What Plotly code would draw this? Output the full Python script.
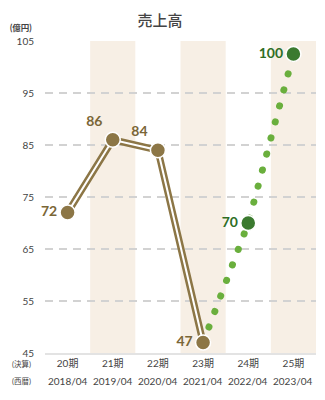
import plotly.graph_objects as go

periods = ["20期", "21期", "22期", "23期", "24期", "25期"]
years = ["2018/04", "2019/04", "2020/04", "2021/04", "2022/04", "2023/04"]
actual_idx = [0, 1, 2, 3]
actual_vals = [72, 86, 84, 47]
actual_labels = ["72", "86", "84", "47"]
actual_pos = ["middle left", "top left", "top left", "middle left"]
plan_idx = [3, 4, 5]
plan_vals = [47, 70, 102.5]
plan_labels = ["", "70", "100"]
shaded = [1, 3, 5]
yticks = [45, 55, 65, 75, 85, 95, 105]

BROWN = "#8c7646"
BROWN_TXT = "#7a6636"
DKGREEN = "#3b7a2f"
GREEN_TXT = "#2f6e25"
LTGREEN = "#6aaf3d"
BAND = "#f7efe5"
FONT = "Lato, Noto Sans CJK JP, sans-serif"

fig = go.Figure()

# forecast dotted line
fig.add_trace(go.Scatter(x=plan_idx, y=plan_vals, mode="lines",
                         line=dict(color=LTGREEN, width=7, dash="0.1px,16.5px"),
                         hoverinfo="skip"))
# actual double line
fig.add_trace(go.Scatter(x=actual_idx, y=actual_vals, mode="lines",
                         line=dict(color=BROWN, width=7), hoverinfo="skip"))
fig.add_trace(go.Scatter(x=actual_idx, y=actual_vals, mode="lines",
                         line=dict(color="white", width=2), hoverinfo="skip"))
# actual markers
fig.add_trace(go.Scatter(x=actual_idx, y=actual_vals, mode="markers+text",
                         marker=dict(color=BROWN, size=15, line=dict(color="white", width=1.5)),
                         text=actual_labels, textposition=actual_pos, cliponaxis=False,
                         textfont=dict(family=FONT, size=14, color=BROWN_TXT, weight="bold"),
                         hoverinfo="skip"))
# plan markers (skip first, shared with actual)
fig.add_trace(go.Scatter(x=plan_idx[1:], y=plan_vals[1:], mode="markers+text",
                         marker=dict(color=DKGREEN, size=15, line=dict(color="white", width=1.5)),
                         text=plan_labels[1:], textposition="middle left", cliponaxis=False,
                         textfont=dict(family=FONT, size=14, color=GREEN_TXT, weight="bold"),
                         hoverinfo="skip"))

shapes = []
for i in shaded:
    shapes.append(dict(type="rect", xref="x", yref="y", x0=i - 0.5, x1=i + 0.5,
                       y0=yticks[0], y1=yticks[-1], fillcolor=BAND, line=dict(width=0),
                       layer="below"))

annotations = []
for i, yr in enumerate(years):
    annotations.append(dict(x=i, xref="x", y=-0.09, yref="paper", text=yr, showarrow=False,
                            xanchor="center", yanchor="middle",
                            font=dict(family=FONT, size=10, color="#444")))
annotations.append(dict(x=-0.088, xref="paper", y=-0.035, yref="paper", text="(決算)",
                        showarrow=False, xanchor="center", yanchor="middle",
                        font=dict(family=FONT, size=7.5, color="#444")))
annotations.append(dict(x=-0.088, xref="paper", y=-0.09, yref="paper", text="(西暦)",
                        showarrow=False, xanchor="center", yanchor="middle",
                        font=dict(family=FONT, size=7.5, color="#444")))
annotations.append(dict(x=-0.088, xref="paper", y=1.042, yref="paper", text="(億円)",
                        showarrow=False, xanchor="center", yanchor="middle",
                        font=dict(family=FONT, size=8.5, color="#444", weight="bold")))

fig.update_layout(
    width=325, height=400,
    margin=dict(l=45, r=9, t=41, b=47),
    paper_bgcolor="white", plot_bgcolor="white",
    showlegend=False,
    title=dict(text="売上高", x=0.492, xref="container", y=0.948, yref="container",
               xanchor="center", yanchor="middle",
               font=dict(family=FONT, size=15, color="#444", weight=500)),
    xaxis=dict(range=[-0.5, 5.5], tickvals=list(range(len(periods))), ticktext=periods,
               showgrid=False, zeroline=False, showline=True, linecolor="#e3e3e3",
               linewidth=2, ticks="", tickfont=dict(family=FONT, size=10, color="#444"),
               fixedrange=True),
    yaxis=dict(range=[45, 105], tickvals=yticks, showgrid=True, gridcolor="#d2d2d2",
               gridwidth=1.5, griddash="8px,6px", zeroline=False, showline=False,
               ticks="", ticklabelstandoff=10,
               tickfont=dict(family=FONT, size=10, color="#444"), fixedrange=True),
    shapes=shapes, annotations=annotations,
)

post = """
document.querySelectorAll('.scatterlayer .trace:first-child path.js-line').forEach(function(p){p.style.strokeLinecap='round';});
"""
fig.write_html("out.html", post_script=post, config={"displayModeBar": False})
